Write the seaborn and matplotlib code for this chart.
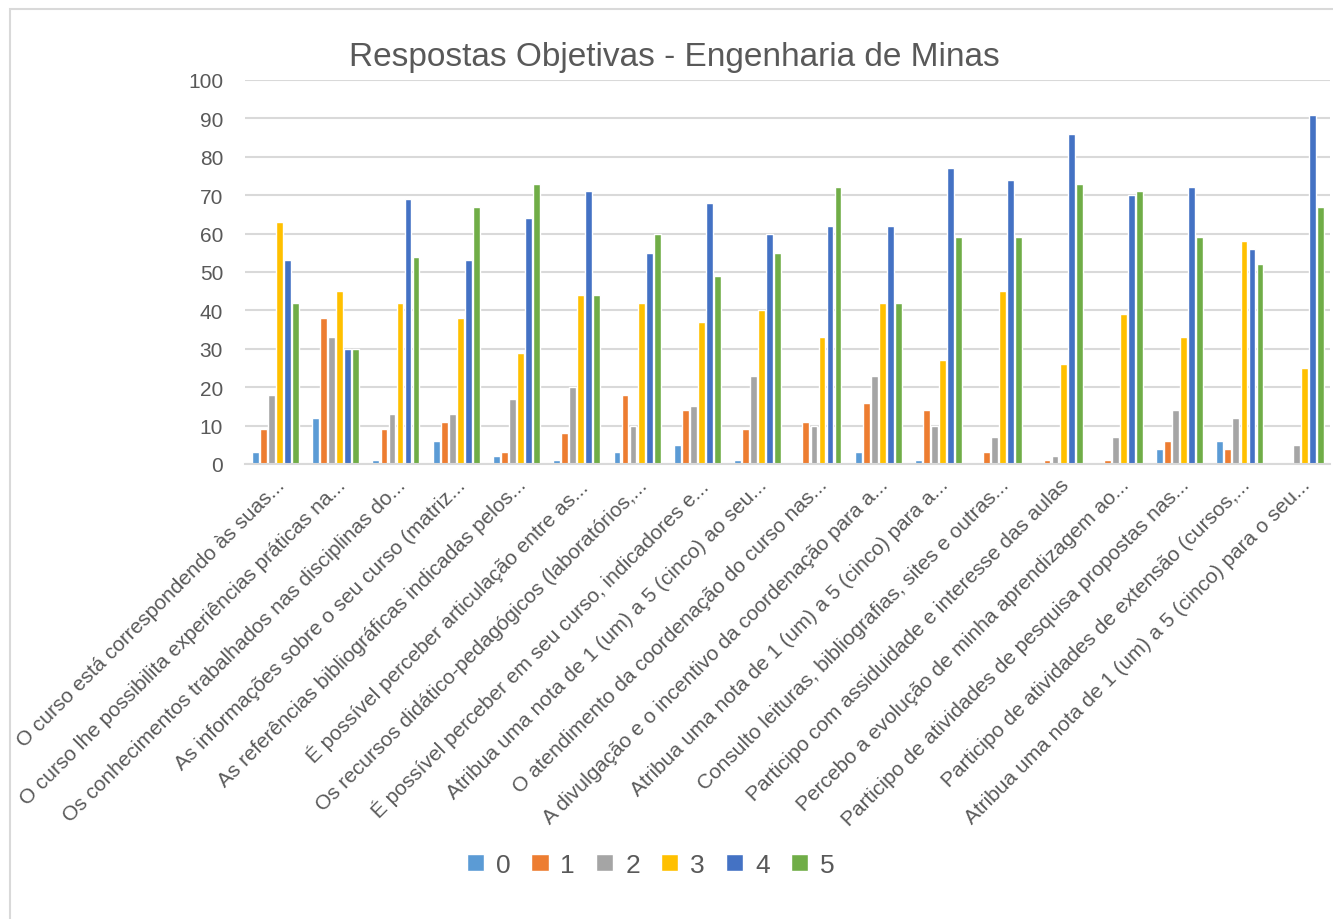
import pandas as pd
import numpy as np
import seaborn as sns
import matplotlib.pyplot as plt
from matplotlib.patches import Rectangle

# Perguntas (rótulos truncados como no gráfico original)
perguntas = [
    "O curso está correspondendo às suas...",
    "O curso lhe possibilita experiências práticas na...",
    "Os conhecimentos trabalhados nas disciplinas do...",
    "As informações sobre o seu curso (matriz...",
    "As referências bibliográficas indicadas pelos...",
    "É possível perceber articulação entre as...",
    "Os recursos didático-pedagógicos (laboratórios,...",
    "É possível perceber em seu curso, indicadores e...",
    "Atribua uma nota de 1 (um) a 5 (cinco) ao seu...",
    "O atendimento da coordenação do curso nas...",
    "A divulgação e o incentivo da coordenação para a...",
    "Atribua uma nota de 1 (um) a 5 (cinco) para a...",
    "Consulto leituras, bibliografias, sites e outras...",
    "Participo com assiduidade e interesse das aulas",
    "Percebo a evolução de minha aprendizagem ao...",
    "Participo de atividades de pesquisa propostas nas...",
    "Participo de atividades de extensão (cursos,...",
    "Atribua uma nota de 1 (um) a 5 (cinco) para o seu...",
]

# Contagem de respostas por nota
nota_0 = [3, 12, 1, 6, 2, 1, 3, 5, 1, 0, 3, 1, 0, 0, 0, 4, 6, 0]
nota_1 = [9, 38, 9, 11, 3, 8, 18, 14, 9, 11, 16, 14, 3, 1, 1, 6, 4, 0]
nota_2 = [18, 33, 13, 13, 17, 20, 10, 15, 23, 10, 23, 10, 7, 2, 7, 14, 12, 5]
nota_3 = [63, 45, 42, 38, 29, 44, 42, 37, 40, 33, 42, 27, 45, 26, 39, 33, 58, 25]
nota_4 = [53, 30, 69, 53, 64, 71, 55, 68, 60, 62, 62, 77, 74, 86, 70, 72, 56, 91]
nota_5 = [42, 30, 54, 67, 73, 44, 60, 49, 55, 72, 42, 59, 59, 73, 71, 59, 52, 67]

notas = ["0", "1", "2", "3", "4", "5"]
cores = ["#5B9BD5", "#ED7D31", "#A5A5A5", "#FFC000", "#4472C4", "#70AD47"]

series = [nota_0, nota_1, nota_2, nota_3, nota_4, nota_5]
rows = []
for nota, vals in zip(notas, series):
    for p, v in zip(perguntas, vals):
        rows.append({"Pergunta": p, "Nota": nota, "Respostas": v})
df = pd.DataFrame(rows)

sns.set_style("white")
plt.rcParams['font.family'] = ['Liberation Sans', 'DejaVu Sans']
texto = "#595959"

fig = plt.figure(figsize=(13.33, 9.2), dpi=100)
ax = fig.add_axes([0.184, 0.4946, 0.814, 0.4174])

sns.barplot(data=df, x="Pergunta", y="Respostas", hue="Nota",
            palette=cores, gap=0.15, width=0.8, ax=ax, saturation=1,
            errorbar=None)

ax.set_ylim(0, 100)
ax.set_yticks(range(0, 101, 10))
ax.yaxis.grid(True, color="#D9D9D9", linewidth=1.5)
ax.set_axisbelow(True)
for s in ["top", "right", "left"]:
    ax.spines[s].set_visible(False)
ax.spines["bottom"].set_color("#D9D9D9")
ax.spines["bottom"].set_linewidth(1.5)
ax.set_xlabel("")
ax.set_ylabel("")
ax.tick_params(axis="both", length=0, colors=texto, labelsize=15)
ax.tick_params(axis="y", pad=16)
ax.tick_params(axis="x", pad=8)
plt.setp(ax.get_xticklabels(), rotation=45, ha="right", rotation_mode="anchor",
         color=texto, fontsize=15)

fig.text(0.506, 0.937, "Respostas Objetivas - Engenharia de Minas",
         color=texto, fontsize=24, ha="center", va="center")

handles, labels = ax.get_legend_handles_labels()
ax.legend(handles, labels, loc="center", bbox_to_anchor=(0.488, 0.059),
          bbox_transform=fig.transFigure, ncol=6, frameon=False,
          handlelength=0.65, handleheight=0.65, handletextpad=0.45,
          columnspacing=0.8, fontsize=19, labelcolor=texto)

# borda da área do gráfico
fig.patches.append(Rectangle((10 / 1333, -0.1), 1.2, 0.1 + 910 / 920,
                             transform=fig.transFigure, fill=False,
                             edgecolor="#D9D9D9", linewidth=1.5))

fig.savefig("out.png", dpi=100)
